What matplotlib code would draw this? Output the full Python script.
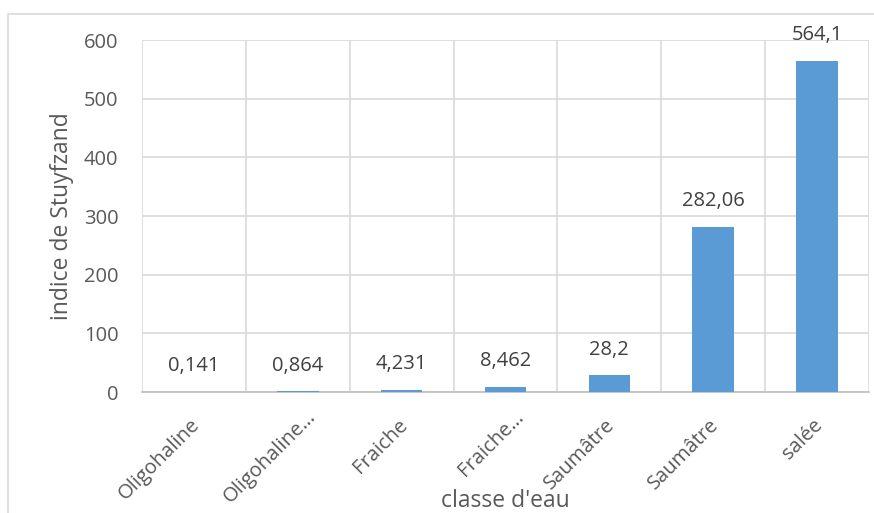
import matplotlib.pyplot as plt
import numpy as np

# data
categories = ['Oligohaline', 'Oligohaline…', 'Fraiche', 'Fraiche…',
              'Saumâtre', 'Saumâtre', 'salée']
values = [0.141, 0.864, 4.231, 8.462, 28.2, 282.06, 564.1]
value_labels = ['0,141', '0,864', '4,231', '8,462', '28,2', '282,06', '564,1']
yticks = [0, 100, 200, 300, 400, 500, 600]

plt.rcParams['font.family'] = ['Open Sans', 'DejaVu Sans']
txt = '#595959'
grid = '#D9D9D9'

fig = plt.figure(figsize=(8.74, 5.13), dpi=100)
fig.add_artist(plt.Rectangle((8 / 874, -0.05), 1.0, 1.05 - 14 / 513,
                             transform=fig.transFigure, fill=False,
                             edgecolor=grid, linewidth=1.2))
ax = fig.add_axes([142 / 874, 1 - 392 / 513, 727 / 874, 352 / 513])

x = np.arange(len(categories))
ax.bar(x, values, width=0.4, color='#5B9BD5', zorder=3)
for xi, v, lab in zip(x, values, value_labels):
    ax.annotate(lab, (xi, v), xytext=(0, 18.5), textcoords='offset points',
                ha='center', va='center', fontsize=14.5, color='#404040')

ax.set_xlim(-0.5, len(categories) - 0.5)
ax.set_ylim(0, 600)
ax.set_yticks(yticks)
ax.set_yticklabels([str(t) for t in yticks], fontsize=14.5, color=txt)

# category labels, rotated like Excel (truncated ones sit a bit further out)
ax.set_xticks(x)
ax.set_xticklabels([])
for xi, cat in zip(x, categories):
    dx, dy = (-3, -16.5)
    if cat.endswith('…'):
        dx, dy = dx + 9, dy + 6
    ax.annotate(cat, (xi, 0), xycoords=('data', 'axes fraction'),
                xytext=(dx, dy), textcoords='offset points',
                rotation=45, ha='right', va='top', rotation_mode='anchor',
                fontsize=14.5, color=txt, annotation_clip=False)

ax.tick_params(axis='both', length=0)
ax.tick_params(axis='y', pad=17)

ax.yaxis.grid(True, color=grid, linewidth=1.2, zorder=0)
for b in np.arange(-0.5, len(categories) + 0.5, 1):
    ax.axvline(b, color=grid, linewidth=1.2, zorder=0)
for s in ['top', 'right', 'left']:
    ax.spines[s].set_visible(False)
ax.spines['bottom'].set_color('#BFBFBF')
ax.spines['bottom'].set_linewidth(1.2)

ax.set_ylabel('indice de Stuyfzand', fontsize=16.5, color=txt, va='center')
ax.yaxis.set_label_coords(-0.11, 0.5)
ax.set_xlabel("classe d'eau", fontsize=16.5, color=txt, va='baseline')
ax.xaxis.set_label_coords(0.5, -0.326)

fig.savefig('out.png', dpi=100)
